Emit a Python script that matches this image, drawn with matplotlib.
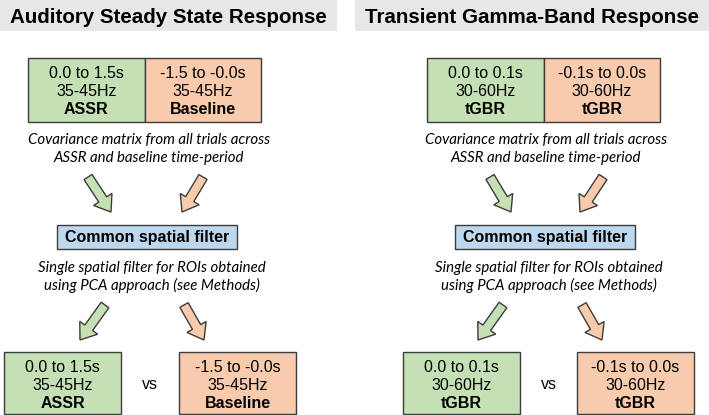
import matplotlib
matplotlib.use("Agg")
import matplotlib.pyplot as plt
import matplotlib.patches as mpatches

# texts of the two panels
titles = ["Auditory Steady State Response", "Transient Gamma-Band Response"]
signal_lines = [["0.0 to 1.5s", "35-45Hz", "ASSR"], ["0.0 to 0.1s", "30-60Hz", "tGBR"]]
baseline_lines = [["-1.5 to -0.0s", "35-45Hz", "Baseline"], ["-0.1s to 0.0s", "30-60Hz", "tGBR"]]
cov_text = ["Covariance matrix from all trials across", "ASSR and baseline time-period"]
filter_label = "Common spatial filter"
pca_text = ["Single spatial filter for ROIs obtained", "using PCA approach (see Methods)"]
vs_label = "vs"

GREEN = "#c5e0b4"
ORANGE = "#f8cbad"
BLUE = "#bdd7ee"
GREY = "#e7e7e7"
EDGE = "#3c3c3c"

SANS = ["Liberation Sans", "DejaVu Sans"]
ITAL = ["Lato", "DejaVu Sans"]

fig = plt.figure(figsize=(7.09, 4.15), dpi=100)
ax = fig.add_axes([0, 0, 1, 1])
ax.set_xlim(0, 709)
ax.set_ylim(415, 0)
ax.axis("off")


def box(x0, y0, w, h, color, lines=None):
    ax.add_patch(mpatches.Rectangle((x0, y0), w, h, fc=color, ec=EDGE, lw=1.0))
    if lines:
        cx = x0 + w / 2
        for i, t in enumerate(lines):
            ax.text(cx, y0 + 20 + i * 18, t, ha="center", va="baseline",
                    fontsize=11.5, family=SANS,
                    fontweight="bold" if i == 2 else "normal")


def arrow(x0, y0, x1, y1, color):
    ax.add_patch(mpatches.FancyArrow(x0, y0, x1 - x0, y1 - y0, width=9.5,
                                     head_width=22, head_length=15,
                                     length_includes_head=True,
                                     fc=color, ec=EDGE, lw=1.0))


# panel layout: title bar, box positions, arrow ends
panels = [
    dict(bar=(0, 337), top=28, bl=4, br=179, cx=148, arr=((88, 177), (111, 212), (203, 177), (182, 212)),
         arr2=((105, 305), (80, 340), (184, 305), (204, 340)), fbox=57),
    dict(bar=(355, 709), top=427, bl=403, br=577, cx=545, arr=((490, 177), (511, 212), (603, 177), (580, 212)),
         arr2=((503, 305), (478, 340), (582, 305), (602, 340)), fbox=455),
]

for p, title, sig, base in zip(panels, titles, signal_lines, baseline_lines):
    b0, b1 = p["bar"]
    ax.add_patch(mpatches.Rectangle((b0, 0), b1 - b0, 31, fc=GREY, ec="none"))
    ax.text((b0 + b1) / 2, 23, title, ha="center", va="baseline",
            fontsize=14.8, fontweight="bold", family=SANS)

    # top pair of boxes
    box(p["top"], 58, 116.5, 64, GREEN, sig)
    box(p["top"] + 116.5, 58, 116.5, 64, ORANGE, base)

    cx = p["cx"]
    for i, t in enumerate(cov_text):
        ax.text(cx + 1, 144 + i * 17.5, t, ha="center", va="baseline",
                fontsize=10.8, style="italic", family=ITAL)

    (gx0, gy0), (gx1, gy1), (ox0, oy0), (ox1, oy1) = p["arr"]
    arrow(gx0, gy0, gx1, gy1, GREEN)
    arrow(ox0, oy0, ox1, oy1, ORANGE)

    # common spatial filter
    box(p["fbox"], 225, 180, 24, BLUE)
    ax.text(p["fbox"] + 90, 242, filter_label, ha="center", va="baseline",
            fontsize=11.5, fontweight="bold", family=SANS)

    for i, t in enumerate(pca_text):
        ax.text(cx + 4, 272 + i * 17.5, t, ha="center", va="baseline",
                fontsize=10.8, style="italic", family=ITAL)

    (gx0, gy0), (gx1, gy1), (ox0, oy0), (ox1, oy1) = p["arr2"]
    arrow(gx0, gy0, gx1, gy1, GREEN)
    arrow(ox0, oy0, ox1, oy1, ORANGE)

    # bottom pair of boxes
    for x0, color, lines in [(p["bl"], GREEN, sig), (p["br"], ORANGE, base)]:
        ax.add_patch(mpatches.Rectangle((x0, 352), 117, 62, fc=color, ec=EDGE, lw=1.0))
        for i, t in enumerate(lines):
            ax.text(x0 + 58.5, 372 + i * 17.8, t, ha="center", va="baseline",
                    fontsize=11.5, family=SANS,
                    fontweight="bold" if i == 2 else "normal")
    ax.text((p["bl"] + 117 + p["br"]) / 2, 389, vs_label, ha="center", va="baseline",
            fontsize=11.5, family=SANS)

fig.savefig("out.png", dpi=100)
